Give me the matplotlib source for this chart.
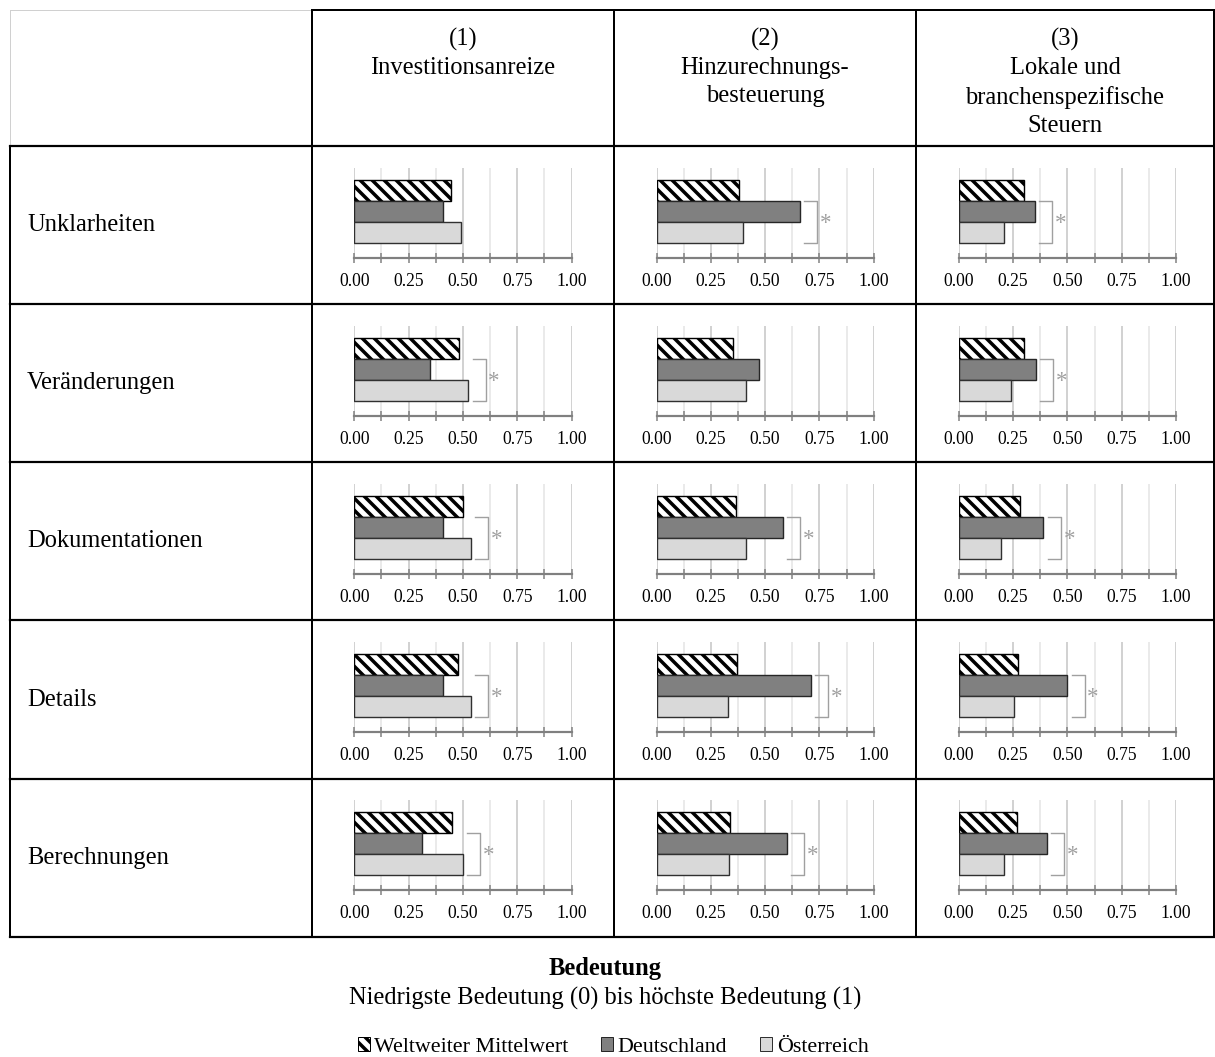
import matplotlib
matplotlib.use("Agg")
import matplotlib.pyplot as plt
from matplotlib.patches import Patch
import numpy as np

plt.rcParams['font.family'] = ['Liberation Serif', 'DejaVu Serif']
plt.rcParams['hatch.linewidth'] = 3.5

# ---------------- data ----------------
columns = ["(1)\nInvestitionsanreize",
           "(2)\nHinzurechnungs-\nbesteuerung",
           "(3)\nLokale und\nbranchenspezifische\nSteuern"]
rows = ["Unklarheiten", "Veränderungen", "Dokumentationen", "Details", "Berechnungen"]
series = ["Weltweiter Mittelwert", "Deutschland", "Österreich"]

# values[row][col]
weltweit = [[0.445, 0.38, 0.30],
            [0.48, 0.35, 0.30],
            [0.50, 0.365, 0.28],
            [0.475, 0.37, 0.275],
            [0.45, 0.34, 0.27]]
deutschland = [[0.41, 0.66, 0.35],
               [0.35, 0.47, 0.355],
               [0.41, 0.58, 0.39],
               [0.41, 0.71, 0.50],
               [0.31, 0.60, 0.405]]
oesterreich = [[0.49, 0.40, 0.21],
               [0.525, 0.41, 0.24],
               [0.535, 0.41, 0.195],
               [0.535, 0.33, 0.255],
               [0.50, 0.335, 0.21]]
signif = [[False, True, True],
          [True, False, True],
          [True, True, True],
          [True, True, True],
          [True, True, True]]
xticks = [0.0, 0.25, 0.5, 0.75, 1.0]
xticklabels = ["0.00", "0.25", "0.50", "0.75", "1.00"]
xlabel_title = "Bedeutung"
xlabel_sub = "Niedrigste Bedeutung (0) bis höchste Bedeutung (1)"

# ---------------- layout ----------------
W, H = 1215, 1057
DPI = 72
fig = plt.figure(figsize=(W / DPI, H / DPI), dpi=DPI)
fig.patch.set_facecolor('white')

bg = fig.add_axes([0, 0, 1, 1])
bg.set_xlim(0, W)
bg.set_ylim(H, 0)
bg.axis('off')

col_x = [10, 312, 614, 916, 1214]
row_y = [10, 146, 304, 462, 620, 779, 937]
black = '#000000'
bg.plot([10, 312], [10, 10], color='#d0d0d0', lw=1)
bg.plot([10, 10], [10, 146], color='#d0d0d0', lw=1)
bg.plot([312, 1214], [10, 10], color=black, lw=2)
for x in col_x[1:]:
    bg.plot([x, x], [10, 937], color=black, lw=2)
bg.plot([10, 10], [146, 937], color=black, lw=2)
for y in row_y[1:]:
    bg.plot([10, 1214], [y, y], color=black, lw=2.2)

FS = 24.5
for c, txt in enumerate(columns):
    cx = (col_x[c + 1] + col_x[c + 2]) / 2
    bg.text(cx, 28, txt, ha='center', va='top', fontsize=FS, linespacing=1.36)
for r, txt in enumerate(rows):
    cy = (row_y[r + 1] + row_y[r + 2]) / 2
    bg.text(27, cy, txt, ha='left', va='center', fontsize=FS)

bg.text(605, 968, xlabel_title, ha='center', va='center', fontsize=FS, fontweight='bold')
bg.text(605, 998, xlabel_sub, ha='center', va='center', fontsize=FS)

ax_left0 = 354.3
ax_dx = 302.2
ax_w = 217.3
ax_top0 = 168
ax_dy = 158
ax_h = 90

colors = ['white', '#808080', '#d9d9d9']
edges = ['black', '#262626', '#303030']
hatches = ['\\\\', None, None]
ypos = [2, 1, 0]

for r in range(len(rows)):
    for c in range(len(columns)):
        left = ax_left0 + ax_dx * c
        top = ax_top0 + ax_dy * r
        ax = fig.add_axes([left / W, 1 - (top + ax_h) / H, ax_w / W, ax_h / H])
        ax.set_facecolor('none')
        vals = [weltweit[r][c], deutschland[r][c], oesterreich[r][c]]
        for i, v in enumerate(vals):
            ax.barh(ypos[i], v, height=1.0, color=colors[i], edgecolor=edges[i],
                    hatch=hatches[i], linewidth=1.4, zorder=3)
        ax.set_xlim(0, 1)
        ax.set_ylim(-1.21, 3.07)
        ax.set_xticks(xticks)
        ax.set_xticklabels(xticklabels, fontsize=17.5)
        ax.set_xticks(np.arange(0.125, 1.0, 0.25), minor=True)
        ax.set_yticks([])
        for s in ['top', 'left', 'right']:
            ax.spines[s].set_visible(False)
        ax.spines['bottom'].set_color('#808080')
        ax.spines['bottom'].set_linewidth(2.2)
        ax.tick_params(axis='x', which='both', direction='inout', length=10, width=1.5,
                       color='#808080', pad=10)
        ax.grid(True, which='major', axis='x', color='#c4c4c4', lw=1.5, zorder=0)
        ax.grid(True, which='minor', axis='x', color='#e4e4e4', lw=1.5, zorder=0)
        ax.set_axisbelow(True)
        if signif[r][c]:
            bx = max(vals[1], vals[2]) + 0.08
            arm = 0.06
            ax.plot([bx - arm, bx, bx, bx - arm], [1.5, 1.5, -0.5, -0.5],
                    color='#a0a0a0', lw=1.4, zorder=4, clip_on=False)
            ax.text(bx + 0.012, 0.45, '*', color='#a0a0a0', fontsize=23,
                    ha='left', va='center', zorder=4)

handles = [Patch(facecolor=colors[i], edgecolor=edges[i], hatch=hatches[i], linewidth=1.0)
           for i in range(3)]
fig.legend(handles, series, loc='center', bbox_to_anchor=(613 / W, 1 - 1047 / H),
           ncol=3, frameon=False, fontsize=22, handlelength=0.55, handleheight=0.55,
           handletextpad=0.2, columnspacing=1.5)

fig.savefig('out.png', dpi=DPI, facecolor='white')
